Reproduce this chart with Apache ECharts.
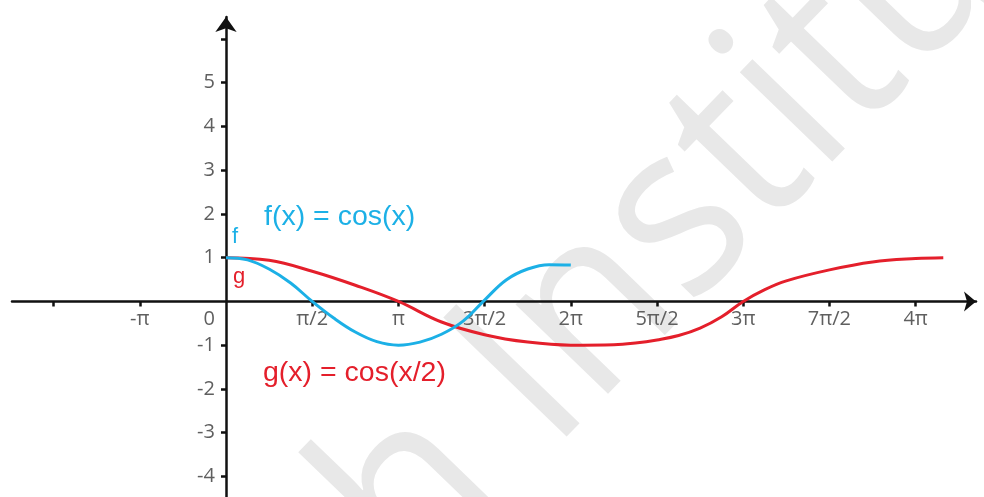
<!DOCTYPE html>
<html>
<head>
<meta charset="utf-8">
<script src="https://cdn.jsdelivr.net/npm/echarts@6/dist/echarts.min.js"></script>
<style>
  html, body { margin: 0; padding: 0; background: #ffffff; }
  #chart { width: 984px; height: 497px; }
</style>
</head>
<body>
<div id="chart"></div>
<script>
const HALF_PI = Math.PI / 2;

// f(x) = cos(x): [x in radians, value], sampled every pi/8
const fPoints = [
  [0, 1], [0.393, 0.95], [0.785, 0.74], [1.178, 0.42], [1.571, 0],
  [1.963, -0.38], [2.356, -0.70], [2.749, -0.92], [3.142, -1], [3.534, -0.93],
  [3.927, -0.75], [4.320, -0.45], [4.712, 0.03], [5.105, 0.49], [5.498, 0.74],
  [5.890, 0.84], [6.283, 0.83]
];

// g(x) = cos(x/2): [x in radians, value]
const gPoints = [
  [0, 1], [0.785, 0.94], [1.571, 0.69], [2.356, 0.37], [3.142, 0],
  [3.927, -0.47], [4.712, -0.76], [5.498, -0.93], [6.283, -1.0], [7.069, -0.99],
  [7.461, -0.95], [7.854, -0.88], [8.247, -0.78], [8.639, -0.61], [9.032, -0.35],
  [9.425, 0], [9.817, 0.27], [10.21, 0.47], [10.996, 0.72], [11.781, 0.90],
  [12.566, 0.98], [13.07, 1]
];

// x-axis ticks and labels, in multiples of pi/2
const xTickSteps = [-2, -1, 1, 2, 3, 4, 5, 6, 7, 8];
const xLabelSteps = [-1, 1, 2, 3, 4, 5, 6, 7, 8];
const xLabels = ['-π', 'π/2', 'π', '3π/2', '2π', '5π/2', '3π', '7π/2', '4π'];

// y-axis ticks and labels
const yTickValues = [-4, -3, -2, -1, 1, 2, 3, 4, 5, 6];
const yLabelValues = [-4, -3, -2, -1, 0, 1, 2, 3, 4, 5];

const BLUE = '#1cb0e6';
const RED = '#e41f2b';
const AXIS = '#111111';
const LABEL = '#5f5f5f';
const LABEL_FONT = 'Open Sans';

const GRID = { left: 12, right: 8, top: 17, bottom: 0 };
const X_MIN = -3.899, X_MAX = 13.666;
const Y_MIN = -4.47, Y_MAX = 6.50;
const W = 984, H = 497;

// place the axes through the origin by offsetting them into the grid
const plotW = W - GRID.left - GRID.right;
const plotH = H - GRID.top - GRID.bottom;
const yAxisOffset = -plotW * (0 - X_MIN) / (X_MAX - X_MIN);
const xAxisOffset = -plotH * (0 - Y_MIN) / (Y_MAX - Y_MIN);

const chart = echarts.init(document.getElementById('chart'), null, { renderer: 'canvas' });

const option = {
  animation: false,
  backgroundColor: '#ffffff',
  grid: Object.assign({ outerBoundsMode: 'none' }, GRID),
  xAxis: {
    type: 'value',
    position: 'bottom',
    offset: xAxisOffset,
    min: X_MIN,
    max: X_MAX,
    axisLine: {
      onZero: false,
      symbol: ['none', 'arrow'],
      symbolSize: [15, 12],
      lineStyle: { color: AXIS, width: 2.5 }
    },
    axisTick: {
      show: true,
      customValues: xTickSteps.map(k => k * HALF_PI),
      length: 5,
      lineStyle: { color: AXIS, width: 2.5 }
    },
    axisLabel: {
      customValues: xLabelSteps.map(k => k * HALF_PI),
      formatter: v => {
        const i = xLabelSteps.indexOf(Math.round(v / HALF_PI));
        return i >= 0 ? xLabels[i] : '';
      },
      color: LABEL,
      fontSize: 20,
      fontFamily: LABEL_FONT,
      margin: 8
    },
    splitLine: { show: false }
  },
  yAxis: {
    type: 'value',
    position: 'left',
    offset: yAxisOffset,
    min: Y_MIN,
    max: Y_MAX,
    axisLine: {
      onZero: false,
      symbol: ['none', 'arrow'],
      symbolSize: [16, 15],
      lineStyle: { color: AXIS, width: 2.5 }
    },
    axisTick: {
      show: true,
      customValues: yTickValues,
      length: 5,
      lineStyle: { color: AXIS, width: 2.5 }
    },
    axisLabel: {
      customValues: yLabelValues,
      formatter: v => (v === 0 ? '{zero|0}' : String(v)),
      color: LABEL,
      fontSize: 20,
      fontFamily: LABEL_FONT,
      margin: 11,
      rich: {
        zero: { color: LABEL, fontSize: 20, fontFamily: LABEL_FONT, padding: [36, 0, 0, 0] }
      }
    },
    splitLine: { show: false }
  },
  series: [
    {
      name: 'g',
      type: 'line',
      data: gPoints,
      smooth: 0.4,
      showSymbol: false,
      lineStyle: { color: RED, width: 3 },
      z: 3
    },
    {
      name: 'f',
      type: 'line',
      data: fPoints,
      smooth: 0.4,
      showSymbol: false,
      lineStyle: { color: BLUE, width: 3 },
      z: 4
    }
  ],
  graphic: [
    {
      type: 'text', x: 367, y: 545, rotation: 46 * Math.PI / 180, scaleX: 0.93, z: -10, silent: true,
      style: {
        text: 'h Institute', fontSize: 240, fontFamily: 'Open Sans', fill: '#e8e8e8',
        align: 'left', verticalAlign: 'middle', textAlign: 'left', textVerticalAlign: 'middle'
      }
    },
    {
      type: 'text', x: 264, y: 217, z: 10,
      style: {
        text: 'f(x) = cos(x)', fontSize: 28.5, fontFamily: 'Liberation Sans', fill: BLUE,
        align: 'left', verticalAlign: 'middle', textAlign: 'left', textVerticalAlign: 'middle'
      }
    },
    {
      type: 'text', x: 263, y: 373, z: 10,
      style: {
        text: 'g(x) = cos(x/2)', fontSize: 28.5, fontFamily: 'Liberation Sans', fill: RED,
        align: 'left', verticalAlign: 'middle', textAlign: 'left', textVerticalAlign: 'middle'
      }
    },
    {
      type: 'text', x: 232, y: 237, z: 10,
      style: {
        text: 'f', fontSize: 22, fontFamily: 'Liberation Sans', fill: BLUE,
        align: 'left', verticalAlign: 'middle', textAlign: 'left', textVerticalAlign: 'middle'
      }
    },
    {
      type: 'text', x: 233, y: 277, z: 10,
      style: {
        text: 'g', fontSize: 22, fontFamily: 'Liberation Sans', fill: RED,
        align: 'left', verticalAlign: 'middle', textAlign: 'left', textVerticalAlign: 'middle'
      }
    }
  ]
};

chart.setOption(option);
</script>
</body>
</html>
